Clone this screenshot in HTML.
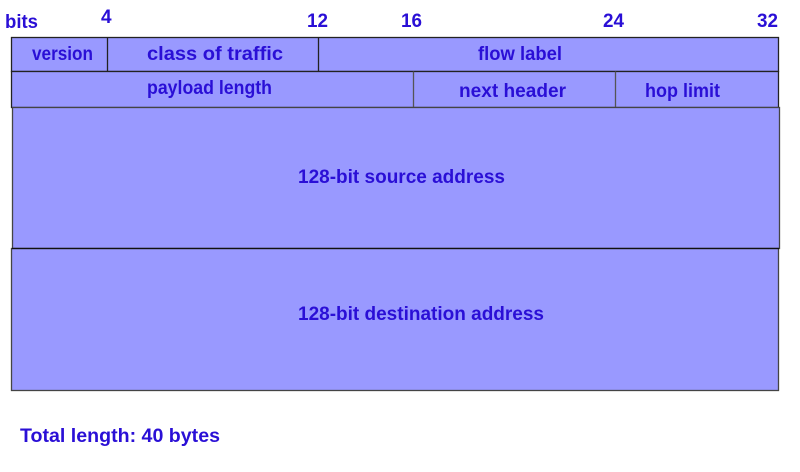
<!DOCTYPE html>
<html><head><meta charset="utf-8"><style>
html,body{margin:0;padding:0;background:#fff;}
svg{display:block;}
text{font-family:"Liberation Sans",sans-serif;font-weight:bold;font-size:19px;fill:#2a0fd6;}
</style></head><body>
<svg width="800" height="472" viewBox="0 0 800 472" xmlns="http://www.w3.org/2000/svg">
<g fill="#9999ff" stroke="#222" stroke-width="1.3">
<rect x="11.5" y="37.5" width="767" height="34"/>
<line x1="107.5" y1="37.5" x2="107.5" y2="71.5"/>
<line x1="318.5" y1="37.5" x2="318.5" y2="71.5"/>
<rect x="11.5" y="71.5" width="767" height="36"/>
<line x1="413.5" y1="71.5" x2="413.5" y2="107.5" stroke="#555"/>
<line x1="615.5" y1="71.5" x2="615.5" y2="107.5" stroke="#555"/>
<rect x="12.5" y="107.5" width="767" height="141" stroke="#444"/>
<rect x="11.5" y="248.5" width="767" height="142" stroke="#444"/>
<line x1="12" y1="248.5" x2="779" y2="248.5" stroke="#111"/>
</g>
<text x="5" y="28" textLength="33" lengthAdjust="spacingAndGlyphs">bits</text>
<text x="101" y="23">4</text>
<text x="307" y="27" textLength="21" lengthAdjust="spacingAndGlyphs">12</text>
<text x="401" y="27" textLength="21" lengthAdjust="spacingAndGlyphs">16</text>
<text x="603" y="27" textLength="21" lengthAdjust="spacingAndGlyphs">24</text>
<text x="757" y="27" textLength="21" lengthAdjust="spacingAndGlyphs">32</text>
<text x="32" y="60" textLength="61" lengthAdjust="spacingAndGlyphs">version</text>
<text x="147" y="60" textLength="136" lengthAdjust="spacingAndGlyphs">class of traffic</text>
<text x="478" y="60" textLength="84" lengthAdjust="spacingAndGlyphs">flow label</text>
<text x="147" y="94" textLength="125" lengthAdjust="spacingAndGlyphs">payload length</text>
<text x="459" y="97" textLength="107" lengthAdjust="spacingAndGlyphs">next header</text>
<text x="645" y="97" textLength="75" lengthAdjust="spacingAndGlyphs">hop limit</text>
<text x="298" y="183" textLength="207" lengthAdjust="spacingAndGlyphs">128-bit source address</text>
<text x="298" y="320" textLength="246" lengthAdjust="spacingAndGlyphs">128-bit destination address</text>
<text x="20" y="442" textLength="200" lengthAdjust="spacingAndGlyphs">Total length: 40 bytes</text>
</svg>
</body></html>
